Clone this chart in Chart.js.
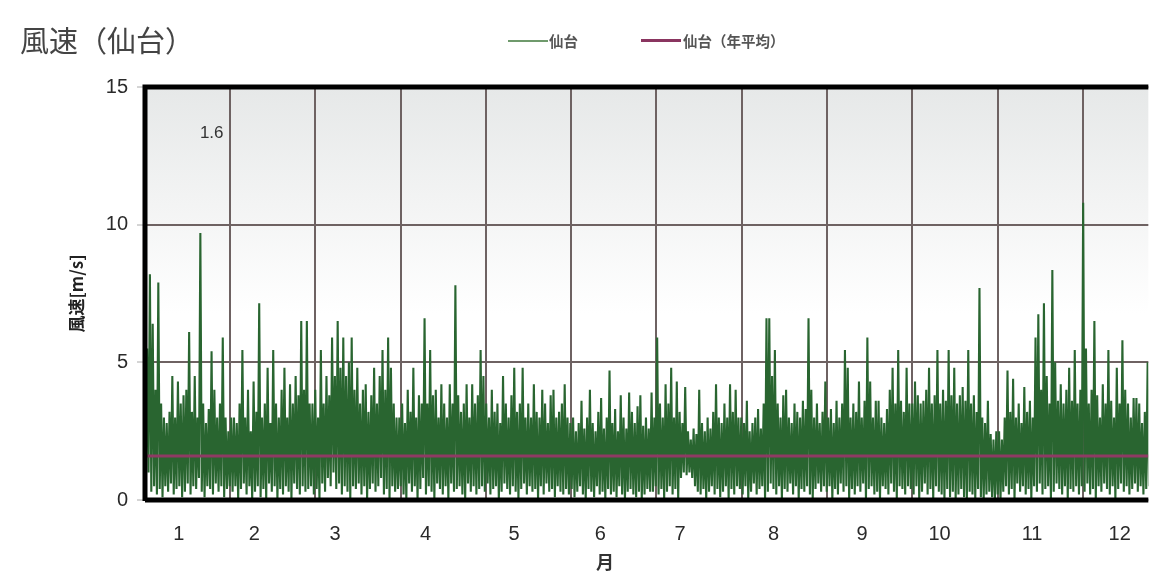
<!DOCTYPE html>
<html>
<head>
<meta charset="utf-8">
<script src="https://cdn.jsdelivr.net/npm/chart.js@4.4.1/dist/chart.umd.min.js"></script>
<style>
  html, body { margin: 0; padding: 0; background: #fff; }
  #wrap { position: relative; width: 1153px; height: 572px; overflow: hidden; }
  #title { position: absolute; left: 20px; top: 23px; font: 29px/32px "Noto Sans CJK JP"; color: #444; }
  .lg-line { position: absolute; }
  .lg-text { position: absolute; top: 32px; font: bold 14.5px/17px "Noto Sans CJK JP"; color: #555; }
</style>
</head>
<body>
<div id="wrap">
  <canvas id="chart" width="1153" height="572"></canvas>
  <div id="title">風速（仙台）</div>
  <div class="lg-line" style="left:508px; top:40px; width:40px; height:2px; background:#6f9a6c;"></div>
  <div class="lg-text" style="left:549px;">仙台</div>
  <div class="lg-line" style="left:641px; top:39px; width:40px; height:3px; background:#8a3560;"></div>
  <div class="lg-text" style="left:683px;">仙台（年平均）</div>
</div>
<script>
// daily maximum wind speed [m/s], day 0 = 1 Jan (one line per month)
const dailyMax = [
  5.5, 8.2, 6.4, 4.0, 7.9, 3.5, 3.0, 2.8, 3.2, 4.5, 3.0, 4.3, 3.5, 3.8, 4.0, 6.1, 3.2, 4.5, 3.0, 9.7, 3.5, 2.8, 3.3, 5.4, 4.0, 3.0, 3.5, 5.9, 3.0, 2.5, 3.0,
  3.0, 2.8, 3.5, 5.45, 3.0, 4.0, 2.5, 4.3, 3.2, 7.15, 3.0, 3.5, 4.8, 2.8, 5.45, 3.5, 3.0, 4.0, 4.8, 3.0, 4.2, 3.5, 4.5, 3.8, 6.5, 4.0, 6.5, 3.5,
  3.5, 4.0, 3.0, 5.45, 3.5, 4.5, 3.8, 5.9, 4.5, 6.5, 4.8, 5.9, 4.5, 5.0, 5.9, 4.0, 4.8, 3.5, 4.0, 4.2, 3.2, 3.8, 4.8, 3.5, 4.5, 5.45, 4.0, 5.9, 4.8, 3.5, 3.0,
  3.0, 3.5, 2.8, 4.0, 3.2, 4.8, 3.0, 3.8, 3.5, 6.6, 3.5, 5.45, 3.8, 4.0, 3.0, 4.2, 3.5, 3.0, 4.2, 3.5, 7.8, 3.8, 3.2, 3.5, 4.2, 3.0, 4.2, 3.5, 3.8, 5.45,
  4.5, 3.5, 3.0, 4.0, 3.2, 3.5, 2.8, 4.5, 3.5, 3.0, 3.8, 4.8, 3.2, 3.5, 4.8, 3.0, 3.5, 3.0, 4.2, 3.2, 3.0, 4.0, 3.5, 2.8, 3.8, 4.0, 3.0, 3.2, 3.5, 4.2, 3.0,
  2.8, 3.0, 2.5, 2.8, 3.6, 2.6, 3.0, 4.0, 2.8, 2.5, 3.2, 3.7, 2.6, 3.0, 4.7, 2.8, 3.3, 2.5, 3.8, 3.0, 2.6, 3.9, 3.2, 2.8, 3.4, 3.8, 2.7, 3.0, 2.6, 3.9,
  3.0, 5.9, 3.5, 3.0, 4.2, 3.5, 4.8, 3.0, 4.3, 3.2, 2.8, 4.1, 2.5, 2.2, 2.6, 2.4, 4.0, 2.8, 2.5, 3.0, 2.6, 3.2, 4.2, 3.0, 2.8, 3.5, 3.0, 4.2, 3.2, 4.0, 3.0,
  3.0, 2.8, 3.6, 2.5, 2.8, 3.0, 3.3, 2.6, 3.5, 6.6, 6.6, 4.5, 5.45, 3.5, 3.0, 3.8, 4.0, 3.0, 2.8, 3.5, 3.2, 3.0, 3.6, 3.3, 6.6, 4.0, 3.0, 3.5, 2.8, 3.2, 4.3,
  3.0, 3.3, 2.8, 3.6, 3.0, 3.5, 5.45, 4.8, 3.0, 3.5, 3.2, 4.3, 3.0, 3.6, 5.9, 4.3, 3.0, 3.6, 3.6, 3.0, 2.8, 3.3, 4.0, 4.8, 3.5, 5.45, 3.6, 3.2, 4.8, 3.5,
  3.5, 4.3, 3.8, 3.5, 3.6, 4.0, 4.8, 3.5, 3.8, 5.45, 3.5, 4.0, 3.6, 5.45, 3.8, 4.8, 3.5, 3.8, 4.1, 3.6, 5.45, 3.5, 3.8, 3.2, 7.7, 3.0, 2.8, 3.6, 2.4, 2.2, 2.5,
  2.5, 2.2, 3.0, 4.7, 3.2, 4.4, 3.0, 3.5, 2.8, 4.1, 3.2, 3.6, 3.0, 5.9, 6.75, 4.0, 7.15, 4.5, 3.5, 8.35, 5.0, 3.6, 4.2, 3.5, 4.0, 4.8, 3.6, 5.45, 3.5, 4.0,
  10.8, 5.5, 3.5, 4.0, 6.5, 3.8, 3.0, 4.2, 3.5, 5.45, 3.6, 3.0, 4.8, 3.5, 5.8, 4.0, 3.5, 3.0, 3.7, 3.7, 3.5, 2.8, 3.2, 5.0, 3.0
];

// daily minimum wind speed [m/s]
const dailyMin = [
  0.6, 1.0, 0.3, 0.5, 0.2, 0.4, 0.1, 0.5, 0.3, 0.6, 0.2, 0.4, 0.5, 0.1, 0.3, 0.6, 0.2, 0.5, 0.4, 0.8, 0.3, 0.1, 0.5, 0.4, 0.2, 0.6, 0.3, 0.5, 0.1, 0.4, 0.5,
  0.3, 0.5, 0.0, 0.4, 0.6, 0.2, 0.5, 0.0, 0.3, 0.5, 0.1, 0.4, 0.0, 0.6, 0.3, 0.5, 0.0, 0.4, 0.2, 0.5, 0.3, 0.0, 0.6, 0.4, 0.2, 0.5, 0.3, 0.4,
  0.5, 0.2, 0.4, 0.0, 0.6, 0.3, 0.8, 0.5, 1.0, 0.4, 0.6, 0.2, 0.5, 0.3, 0.0, 0.5, 0.4, 0.6, 0.2, 0.5, 0.0, 0.4, 0.6, 0.3, 0.5, 0.8, 0.2, 0.4, 0.0, 0.5, 0.3,
  0.4, 0.5, 0.2, 0.0, 0.6, 0.3, 0.5, 0.0, 0.4, 0.8, 0.2, 0.5, 0.3, 0.0, 0.6, 0.4, 0.2, 0.5, 0.0, 0.6, 0.3, 0.4, 0.5, 0.2, 0.0, 0.6, 0.3, 0.5, 0.2, 0.4,
  0.5, 0.3, 0.6, 0.2, 0.4, 0.5, 0.0, 0.3, 0.6, 0.4, 0.2, 0.5, 0.3, 0.0, 0.4, 0.6, 0.2, 0.5, 0.3, 0.4, 0.0, 0.5, 0.2, 0.6, 0.3, 0.4, 0.1, 0.5, 0.3, 0.2, 0.4,
  0.2, 0.4, 0.1, 0.3, 0.5, 0.2, 0.0, 0.4, 0.3, 0.1, 0.5, 0.2, 0.3, 0.0, 0.4, 0.2, 0.3, 0.1, 0.5, 0.2, 0.0, 0.3, 0.4, 0.2, 0.1, 0.3, 0.0, 0.2, 0.4, 0.3,
  0.3, 0.5, 0.2, 0.4, 0.0, 0.3, 0.5, 0.2, 0.4, 0.0, 0.8, 1.0, 0.9, 1.0, 0.8, 0.5, 0.3, 0.2, 0.4, 0.0, 0.3, 0.5, 0.2, 0.4, 0.1, 0.3, 0.5, 0.0, 0.4, 0.2, 0.5,
  0.4, 0.2, 0.5, 0.0, 0.3, 0.6, 0.2, 0.4, 0.5, 0.0, 0.3, 0.6, 0.4, 0.2, 0.5, 0.0, 0.4, 0.3, 0.6, 0.2, 0.5, 0.0, 0.4, 0.3, 0.5, 0.2, 0.0, 0.4, 0.6, 0.3, 0.5,
  0.3, 0.5, 0.0, 0.4, 0.2, 0.6, 0.3, 0.5, 0.0, 0.4, 0.2, 0.5, 0.3, 0.6, 0.0, 0.4, 0.5, 0.2, 0.3, 0.0, 0.5, 0.4, 0.2, 0.6, 0.3, 0.0, 0.5, 0.4, 0.2, 0.5,
  0.4, 0.2, 0.5, 0.0, 0.3, 0.6, 0.2, 0.4, 0.0, 0.5, 0.3, 0.2, 0.0, 0.4, 0.1, 0.3, 0.0, 0.2, 0.4, 0.1, 0.0, 0.3, 0.2, 0.0, 0.4, 0.1, 0.0, 0.2, 0.3, 0.1, 0.0,
  0.2, 0.0, 0.3, 0.5, 0.2, 0.4, 0.0, 0.6, 0.3, 0.5, 0.2, 0.4, 0.0, 0.5, 0.3, 0.6, 0.2, 0.4, 0.5, 0.0, 0.3, 0.6, 0.4, 0.2, 0.5, 0.0, 0.4, 0.3, 0.5, 0.2,
  0.5, 0.3, 0.6, 0.2, 0.4, 0.0, 0.5, 0.3, 0.6, 0.4, 0.2, 0.5, 0.0, 0.4, 0.6, 0.3, 0.5, 0.2, 0.4, 0.6, 0.3, 0.5, 0.2, 0.4, 0.5
];

const avgSpeed = 1.6;                       // 仙台（年平均）
const monthLabels = ['1', '2', '3', '4', '5', '6', '7', '8', '9', '10', '11', '12'];
const monthLabelDays = [12.1, 39.0, 67.8, 100.1, 131.7, 162.5, 190.9, 224.3, 255.9, 283.5, 316.5, 347.8];
const monthGridDays = [0, 30.4, 60.8, 91.3, 121.7, 152.1, 182.5, 212.9, 243.3, 273.8, 304.2, 334.6];
const yTicks = [0, 5, 10, 15];
const lastDay = 358;

// build the zigzag: low then high for each day
const windPoints = [];
const n = Math.min(dailyMax.length, dailyMin.length);
for (let d = 0; d < n; d++) {
    windPoints.push({ x: d + 0.25, y: dailyMin[d] });
    windPoints.push({ x: d + 0.75, y: dailyMax[d] });
}

const tickFont = { family: '"Liberation Sans", Arial, sans-serif', size: 20 };

// background gradient, thick frame, and the small texts
const framePlugin = {
    id: 'frame',
    beforeDraw(chart) {
        const { ctx, chartArea: a } = chart;
        const g = ctx.createLinearGradient(0, a.top, 0, a.bottom);
        g.addColorStop(0, '#e6e8e8');
        g.addColorStop(0.55, '#ffffff');
        g.addColorStop(1, '#ffffff');
        ctx.save();
        ctx.fillStyle = g;
        ctx.fillRect(a.left, a.top, a.right - a.left, a.bottom - a.top);
        ctx.restore();
    },
    afterDraw(chart) {
        const { ctx, chartArea: a, scales } = chart;
        ctx.save();
        ctx.strokeStyle = '#000';
        ctx.lineWidth = 5;
        ctx.beginPath();
        ctx.moveTo(a.left, a.bottom + 1);
        ctx.lineTo(a.left, a.top);
        ctx.lineTo(a.right, a.top);
        ctx.moveTo(a.left, a.bottom);
        ctx.lineTo(a.right, a.bottom);
        ctx.stroke();

        ctx.fillStyle = '#333';
        ctx.textAlign = 'center';
        ctx.textBaseline = 'middle';
        ctx.font = '17px "Liberation Sans", Arial, sans-serif';
        ctx.fillText(avgSpeed.toFixed(1), scales.x.getPixelForValue(23.8), scales.y.getPixelForValue(13.33));

        ctx.font = 'bold 18px "Noto Sans CJK JP"';
        ctx.textBaseline = 'top';
        ctx.fillText('月', 605, 553);
        ctx.restore();
    }
};

new Chart(document.getElementById('chart'), {
    type: 'line',
    data: {
        datasets: [
            {
                label: '仙台（年平均）',
                data: [{ x: 0, y: avgSpeed }, { x: lastDay, y: avgSpeed }],
                borderColor: '#8e3a63',
                borderWidth: 3,
                pointRadius: 0,
                order: 1
            },
            {
                label: '仙台',
                data: windPoints,
                borderColor: '#296530',
                borderWidth: 2.1,
                pointRadius: 0,
                tension: 0,
                order: 2
            }
        ]
    },
    options: {
        responsive: false,
        animation: false,
        events: [],
        layout: { padding: { top: 87, left: 0, right: 0, bottom: 0 } },
        plugins: { legend: { display: false }, tooltip: { enabled: false } },
        scales: {
            x: {
                type: 'linear',
                min: 0,
                max: lastDay,
                afterBuildTicks: (s) => { s.ticks = monthGridDays.map(v => ({ value: v })); },
                afterFit: (s) => { s.height = 0; },
                ticks: { display: false },
                grid: { color: '#6e6262', lineWidth: 2, drawTicks: false },
                border: { display: false }
            },
            x2: {
                type: 'linear',
                position: 'bottom',
                min: 0,
                max: lastDay,
                afterBuildTicks: (s) => { s.ticks = monthLabelDays.map(v => ({ value: v })); },
                afterFit: (s) => { s.height = 72; },
                ticks: {
                    callback: (v, i) => monthLabels[i],
                    autoSkip: false,
                    maxRotation: 0,
                    padding: 22,
                    color: '#2a2a2a',
                    font: tickFont
                },
                grid: { display: false, drawTicks: false },
                border: { display: false }
            },
            y: {
                min: 0,
                max: 15,
                afterBuildTicks: (s) => { s.ticks = yTicks.map(v => ({ value: v })); },
                afterFit: (s) => { s.width = 145; },
                ticks: { padding: 9, color: '#2a2a2a', font: tickFont },
                grid: { color: '#6e6262', lineWidth: 2, tickLength: 8, tickColor: '#aaa', tickWidth: 1 },
                border: { display: false },
                title: {
                    display: true,
                    text: '風速[m/s]',
                    color: '#222',
                    font: { family: '"Noto Sans CJK JP"', size: 17, weight: 'bold' },
                    padding: { top: 66, bottom: 0 }
                }
            }
        }
    },
    plugins: [framePlugin]
});
</script>
</body>
</html>
